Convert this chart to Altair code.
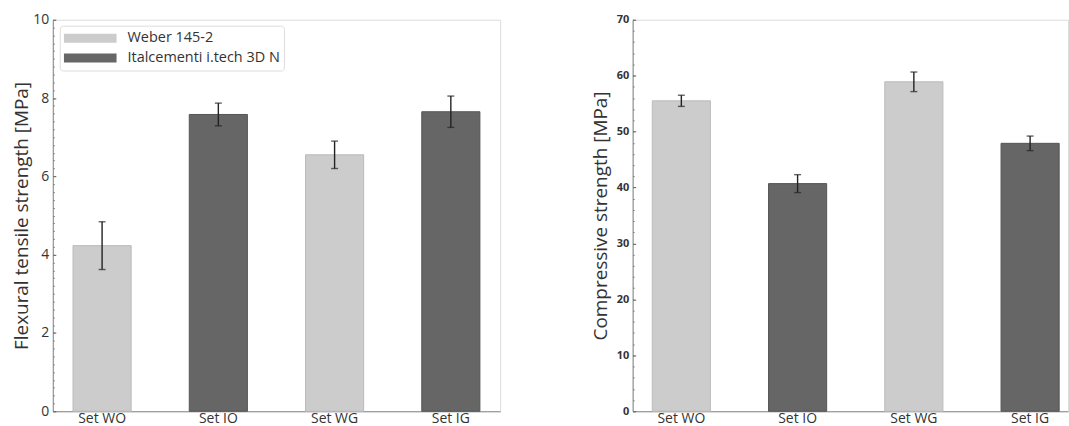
import altair as alt
import pandas as pd

sets = ["Set WO", "Set IO", "Set WG", "Set IG"]
weber = "Weber 145-2"
ital = "Italcementi i.tech 3D N"
materials = [weber, ital, weber, ital]

flex_mean = [4.23, 7.58, 6.55, 7.65]
flex_sd = [0.61, 0.29, 0.35, 0.40]
comp_mean = [55.5, 40.7, 58.9, 47.9]
comp_sd = [1.0, 1.6, 1.75, 1.3]

flex_ticks = [0, 2, 4, 6, 8, 10]
comp_ticks = [0, 10, 20, 30, 40, 50, 60, 70]
flex_minor = [round(i * 0.2, 1) for i in range(51)]
comp_minor = [i * 2 for i in range(36)]

FONT = "Open Sans"
H = 393


def panel(mean, sd, ytitle, domain, major, minor, W, po, align,
          lab_size, lab_weight, title_pad):
    df = pd.DataFrame({
        "set": sets,
        "material": materials,
        "mean": mean,
        "lo": [m - s for m, s in zip(mean, sd)],
        "hi": [m + s for m, s in zip(mean, sd)],
    })
    xscale = alt.Scale(domain=sets, paddingInner=0.5, paddingOuter=po, align=align)
    yscale = alt.Scale(domain=domain, nice=False, zero=True)
    base = alt.Chart(df)

    bars = base.mark_bar(strokeWidth=1).encode(
        x=alt.X("set:N", sort=sets, scale=xscale,
                axis=alt.Axis(title=None, labelAngle=0, tickSize=0, domainColor="#888",
                              labelFontSize=14, labelPadding=0, labelColor="#333",
                              labelFont=FONT)),
        y=alt.Y("mean:Q", scale=yscale,
                axis=alt.Axis(title=ytitle, values=major, tickSize=0, grid=False,
                              domainColor="#888", labelFontSize=lab_size,
                              labelFontWeight=lab_weight, labelColor="#333",
                              labelPadding=4, titleFontSize=19, titleFontWeight="normal",
                              titleColor="#333", titlePadding=title_pad, titleFont=FONT,
                              labelFont=FONT)),
        color=alt.Color("material:N",
                        scale=alt.Scale(domain=[weber, ital], range=["#cccccc", "#666666"]),
                        legend=alt.Legend(title=None, orient="none", legendX=7, legendY=6,
                                          symbolType="M-1,-0.17L1,-0.17L1,0.17L-1,0.17Z",
                                          symbolSize=2809, symbolStrokeWidth=0,
                                          labelFontSize=14.5, labelColor="#333", labelFont=FONT,
                                          labelOffset=11, rowPadding=3, clipHeight=17,
                                          padding=4, strokeColor="#dddddd", cornerRadius=3,
                                          fillColor="white")),
        stroke=alt.Stroke("material:N",
                          scale=alt.Scale(domain=[weber, ital], range=["#bbbbbb", "#555555"]),
                          legend=None),
    )

    err = base.mark_rule(color="#222222", strokeWidth=1.4).encode(
        x=alt.X("set:N", sort=sets, scale=xscale,
                axis=alt.Axis(orient="top", offset=-H, labels=False, domain=False,
                              tickSize=3, tickColor="#555", title=None, grid=False)),
        y=alt.Y("lo:Q", scale=yscale,
                axis=alt.Axis(orient="right", offset=-W, labels=False, domain=False,
                              values=major, tickSize=3, tickColor="#555", title=None,
                              grid=False)),
        y2="hi:Q",
    )

    cap_hi = base.mark_tick(color="#222222", size=7, thickness=1.4).encode(
        x=alt.X("set:N", sort=sets, scale=xscale, axis=None),
        y=alt.Y("hi:Q", scale=yscale,
                axis=alt.Axis(orient="right", offset=-W, labels=False, domain=False,
                              values=minor, tickSize=1.5, tickColor="#777", title=None,
                              grid=False)),
    )
    cap_lo = base.mark_tick(color="#222222", size=7, thickness=1.4).encode(
        x=alt.X("set:N", sort=sets, scale=xscale, axis=None),
        y=alt.Y("lo:Q", scale=yscale, axis=None),
    )

    return alt.layer(bars, err, cap_hi, cap_lo).resolve_scale(
        x="shared", y="shared"
    ).resolve_axis(x="independent", y="independent").properties(width=W, height=H)


left = panel(flex_mean, flex_sd, "Flexural tensile strength [MPa]", [0, 10],
             flex_ticks, flex_minor, 449, 0.174, 0.5, 14, "normal", 1)
right = panel(comp_mean, comp_sd, "Compressive strength [MPa]", [0, 70],
              comp_ticks, comp_minor, 437, 0.1225, 0.69, 11, "bold", 6)

chart = alt.hconcat(left, right, spacing=89).properties(
    padding={"left": 12, "top": 11, "right": 0, "bottom": 0}
).configure_view(stroke="#999999", strokeWidth=1).configure(font=FONT, background="white")

chart.save("out.html", embed_options={"renderer": "svg", "actions": False})
